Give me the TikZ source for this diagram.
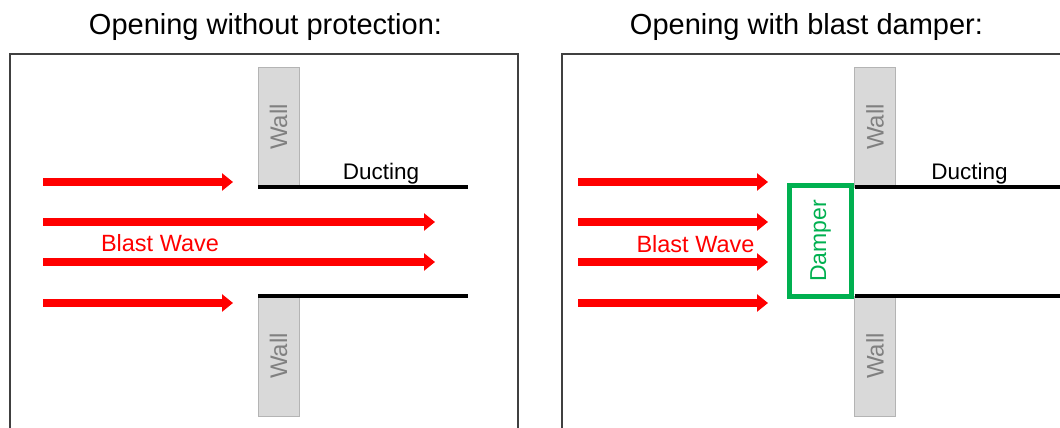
\documentclass[tikz,border=0pt]{standalone}
\usepackage{fontspec}
\setmainfont{Liberation Sans}
\usepackage{graphicx}
\usetikzlibrary{arrows.meta}
\definecolor{blastred}{HTML}{FF0000}
\definecolor{dampergreen}{HTML}{00B050}
\definecolor{wallfill}{HTML}{D9D9D9}
\definecolor{walledge}{HTML}{B4B4B4}
\definecolor{walltext}{HTML}{808080}
\definecolor{framecol}{HTML}{404040}
\tikzset{
  panel/.style={draw=framecol, line width=1.5pt},
  wallbox/.style={draw=walledge, fill=wallfill, line width=0.8pt, minimum width=41pt, minimum height=120pt, inner sep=0pt, outer sep=0pt, text=walltext, font=\fontsize{24}{28}\selectfont},
  damperbox/.style={draw=dampergreen, line width=5pt, minimum width=62pt, minimum height=111pt, inner sep=0pt, text=dampergreen, font=\fontsize{23}{27}\selectfont},
  duct/.style={line width=4pt, black},
  blast/.style={blastred, line width=7.5pt, -{Triangle[length=11pt,width=17pt]}},
  titletext/.style={font=\fontsize{29}{33}\selectfont, anchor=base, text=black},
  ducttext/.style={font=\fontsize{22.5}{26}\selectfont, anchor=base, text=black},
  blasttext/.style={font=\fontsize{23.5}{27}\selectfont, anchor=base, text=blastred}
}
\begin{document}
\begin{tikzpicture}[x=1pt,y=-1pt]
\clip (0,0) rectangle (1060,428);
\fill[white] (0,0) rectangle (1060,428);
% titles
\node[titletext] (t1) at (265.5,35) {Opening without protection:};
\node[titletext] (t2) at (806.5,35) {Opening with blast damper:};
% frames
\draw[panel] (10,54) rectangle (518,445);
\draw[panel] (562,54) rectangle (1075,445);
% ---------- left panel ----------
\node[wallbox] (lw1) at (278.5,127) {\rotatebox{90}{Wall}};
\node[wallbox] (lw2) at (278.5,356) {\rotatebox{90}{Wall}};
\coordinate (ld1e) at (468,187);
\coordinate (ld2e) at (468,294);
\draw[duct] (lw1.south west) -- (lw1.south west -| ld1e);
\draw[duct] (lw2.north west) -- (lw2.north west -| ld2e);
\node[ducttext] (ldt) at (381,179.5) {Ducting};
\coordinate (la1s) at (43,182);  \coordinate (la1e) at (233,182);
\coordinate (la2s) at (43,222);  \coordinate (la2e) at (435,222);
\coordinate (la3s) at (43,262);  \coordinate (la3e) at (435,262);
\coordinate (la4s) at (43,303);  \coordinate (la4e) at (233,303);
\draw[blast] (la1s) -- (la1e);
\draw[blast] (la2s) -- (la2e);
\draw[blast] (la3s) -- (la3e);
\draw[blast] (la4s) -- (la4e);
\node[blasttext] (lbt) at (160,251) {Blast Wave};
% ---------- right panel ----------
\node[wallbox] (rw1) at (875,127) {\rotatebox{90}{Wall}};
\node[wallbox] (rw2) at (875,356) {\rotatebox{90}{Wall}};
\coordinate (rd1e) at (1070,187);
\coordinate (rd2e) at (1070,294);
\draw[duct] (rw1.south west) -- (rw1.south west -| rd1e);
\draw[duct] (rw2.north west) -- (rw2.north west -| rd2e);
\node[ducttext] (rdt) at (969.5,179.5) {Ducting};
\node[damperbox] (dmp) at (820.5,241) {\rotatebox{90}{Damper}};
\coordinate (ra1s) at (578,182);  \coordinate (ra1e) at (768,182);
\coordinate (ra2s) at (578,222);  \coordinate (ra2e) at (768,222);
\coordinate (ra3s) at (578,262);  \coordinate (ra3e) at (768,262);
\coordinate (ra4s) at (578,303);  \coordinate (ra4e) at (768,303);
\draw[blast] (ra1s) -- (ra1e);
\draw[blast] (ra2s) -- (ra2e);
\draw[blast] (ra3s) -- (ra3e);
\draw[blast] (ra4s) -- (ra4e);
\node[blasttext] (rbt) at (695.5,252) {Blast Wave};
\end{tikzpicture}
\end{document}
